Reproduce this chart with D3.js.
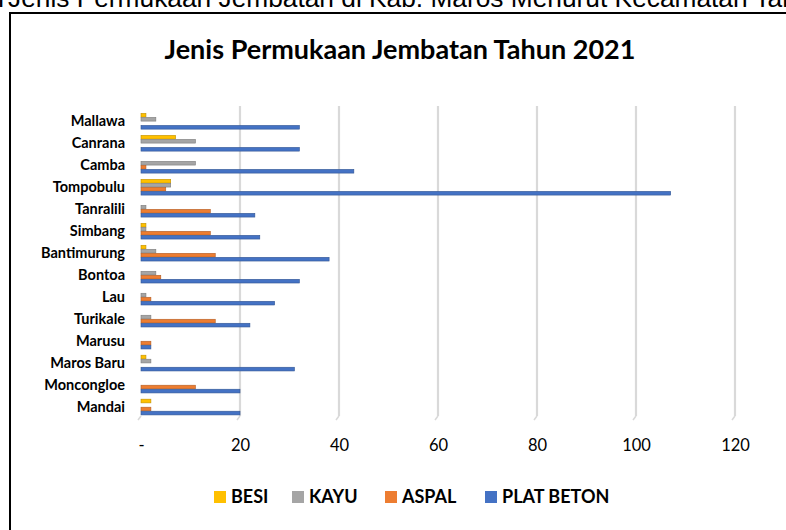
<!DOCTYPE html>
<html>
<head>
<meta charset="utf-8">
<script src="https://cdn.jsdelivr.net/npm/d3@7/dist/d3.min.js"></script>
<style>
  html, body { margin: 0; padding: 0; background: #fff; }
  svg { display: block; }
</style>
</head>
<body>
<svg id="chart" width="786" height="530"></svg>
<script>
// Jumlah jembatan per kecamatan menurut jenis permukaan, 2021
const kecamatan = ["Mallawa", "Canrana", "Camba", "Tompobulu", "Tanralili", "Simbang",
  "Bantimurung", "Bontoa", "Lau", "Turikale", "Marusu", "Maros Baru", "Moncongloe", "Mandai"];
const besi      = [1, 7, 0, 6, 0, 1, 1, 0, 0, 0, 0, 1, 0, 2];
const kayu      = [3, 11, 11, 6, 1, 1, 3, 3, 1, 2, 0, 2, 0, 0];
const aspal     = [0, 0, 1, 5, 14, 14, 15, 4, 2, 15, 2, 0, 11, 2];
const platBeton = [32, 32, 43, 107, 23, 24, 38, 32, 27, 22, 2, 31, 20, 20];
const seriesNames = ["BESI", "KAYU", "ASPAL", "PLAT BETON"];
const seriesColors = ["#FFC000", "#A5A5A5", "#ED7D31", "#4472C4"];
const xTicks = [0, 20, 40, 60, 80, 100, 120];

const series = [besi, kayu, aspal, platBeton].map((vals, i) => ({
  name: seriesNames[i], color: seriesColors[i], values: vals
}));

const svg = d3.select("#chart");
const uiFont = "Lato, 'Open Sans', sans-serif";

// Judul tabel di atas bingkai (terpotong di tepi atas)
const head = svg.append("g").attr("font-family", "'Liberation Sans', Arial, sans-serif")
  .attr("font-size", 26.3).attr("fill", "#000");
head.append("text").attr("x", 1).attr("y", 7).attr("text-anchor", "middle").text("T");
head.append("text").attr("x", 8).attr("y", 7)
  .text("Jenis Permukaan Jembatan di Kab. Maros Menurut Kecamatan Tahun 2021");

// Bingkai grafik
svg.append("rect").attr("x", 10).attr("y", 13).attr("width", 800).attr("height", 540)
  .attr("fill", "#fff").attr("stroke", "#000").attr("stroke-width", 2);

// Judul grafik
svg.append("text").attr("x", 400).attr("y", 59).attr("text-anchor", "middle")
  .attr("font-family", uiFont).attr("font-weight", "bold")
  .attr("font-size", 27).attr("fill", "#000")
  .text("Jenis Permukaan Jembatan Tahun 2021");

const x = d3.scaleLinear().domain([0, 120]).range([141, 735]);
const y = d3.scaleBand().domain(kecamatan).range([110, 418]).paddingInner(0.27).paddingOuter(0.14);
const ySub = d3.scaleBand().domain(seriesNames).range([0, y.bandwidth()]);

const plotTop = 106, plotBottom = 416;

// Garis kisi vertikal
const grid = svg.append("g");
grid.selectAll("line.g").data(xTicks.slice(1)).join("line").attr("class", "g")
  .attr("x1", d => x(d)).attr("x2", d => x(d))
  .attr("y1", plotTop).attr("y2", plotBottom)
  .attr("stroke", "#d9d9d9").attr("stroke-width", 2.2);
// Tepi lantai 3D di bawah garis kisi
grid.selectAll("line.f").data(xTicks).join("line").attr("class", "f")
  .attr("x1", d => x(d)).attr("x2", d => x(d) - 3)
  .attr("y1", plotBottom).attr("y2", plotBottom + 4)
  .attr("stroke", "#d9d9d9").attr("stroke-width", 1.5);

// Batang
const groups = svg.append("g").selectAll("g").data(kecamatan).join("g")
  .attr("transform", d => `translate(0,${y(d)})`);
groups.selectAll("rect").data((d, i) => series.map(s => ({ s, v: s.values[i] })))
  .join("rect")
  .attr("x", x(0))
  .attr("y", d => ySub(d.s.name) + 0.3)
  .attr("width", d => x(d.v) - x(0))
  .attr("height", ySub.bandwidth() - 0.3)
  .attr("fill", d => d.s.color)
  .attr("stroke", d => d3.color(d.s.color).darker(0.8))
  .attr("stroke-width", 0.6);

// Sumbu x
const xAxis = d3.axisBottom(x).tickValues(xTicks).tickSize(0)
  .tickFormat(d => d === 0 ? "-" : d);
svg.append("g").attr("transform", "translate(0,436)").call(xAxis)
  .call(g => g.select(".domain").remove())
  .call(g => g.selectAll("text").attr("font-family", uiFont)
    .attr("font-size", 16.5).attr("fill", "#000"));

// Label kecamatan
const yAxis = d3.axisLeft(y).tickSize(0).tickPadding(0);
svg.append("g").attr("transform", "translate(125,0)").call(yAxis)
  .call(g => g.select(".domain").remove())
  .call(g => g.selectAll("text").attr("font-family", uiFont)
    .attr("font-weight", "bold").attr("font-size", 14.5).attr("fill", "#000"));

// Legenda
const legendX = [214, 292, 385, 485];
const legend = svg.append("g").selectAll("g").data(series).join("g")
  .attr("transform", (d, i) => `translate(${legendX[i]},497)`);
legend.append("rect").attr("x", 0).attr("y", -6).attr("width", 12).attr("height", 12)
  .attr("fill", d => d.color);
legend.append("text").attr("x", 17).attr("y", 0).attr("dy", "0.36em")
  .attr("font-family", uiFont).attr("font-weight", "bold")
  .attr("font-size", 18).attr("fill", "#000").text(d => d.name);
</script>
</body>
</html>
